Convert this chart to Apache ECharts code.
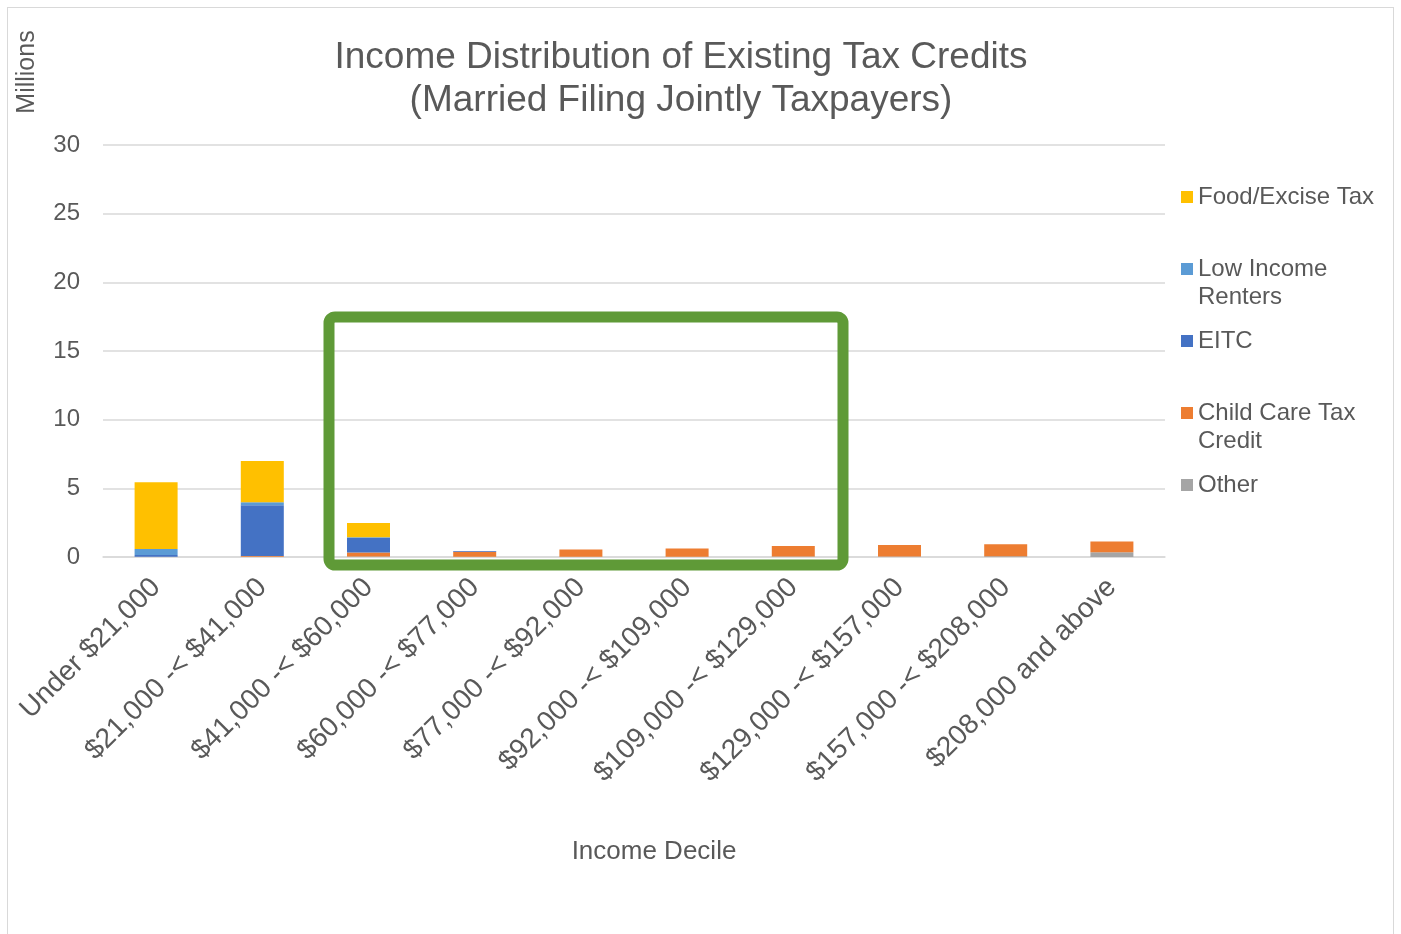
<!DOCTYPE html>
<html><head><meta charset="utf-8">
<script src="https://cdn.jsdelivr.net/npm/echarts@6/dist/echarts.min.js"></script>
<style>
html,body{margin:0;padding:0;background:#fff;}
#frame{position:absolute;left:7px;top:7px;width:1387px;height:940px;border:1.5px solid #d9d9d9;box-sizing:border-box;}
#chart{position:absolute;left:0;top:0;width:1401px;height:934px;}
</style></head>
<body>
<div id="frame"></div>
<div id="chart"></div>
<script>
const categories = ['Under $21,000', '$21,000 -< $41,000', '$41,000 -< $60,000', '$60,000 -< $77,000', '$77,000 -< $92,000', '$92,000 -< $109,000', '$109,000 -< $129,000', '$129,000 -< $157,000', '$157,000 -< $208,000', '$208,000 and above'];
const other     = [0.02, 0.02, 0.03, 0.02, 0.02, 0.02, 0.03, 0.03, 0.05, 0.35];
const childCare = [0.00, 0.05, 0.30, 0.37, 0.53, 0.60, 0.78, 0.85, 0.88, 0.77];
const eitc      = [0.12, 3.70, 1.05, 0.05, 0, 0, 0, 0, 0, 0];
const lowIncome = [0.45, 0.22, 0.05, 0, 0, 0, 0, 0, 0, 0];
const food      = [4.85, 3.00, 1.05, 0, 0, 0, 0, 0, 0, 0];
const yTicks = [0, 5, 10, 15, 20, 25, 30];

const FONT = '"Liberation Sans", Arial, sans-serif';
const GREY = '#595959';
const chart = echarts.init(document.getElementById('chart'));
const icon = 'path://M0,0L0.01,0L0,0.01Z M0,8L12,8L12,20L0,20Z M0,56L0.01,56L0,55.99Z';
const mk = (name, data, color) => ({
  name, type: 'bar', stack: 'total', data, barWidth: 43,
  itemStyle: { color }, emphasis: { disabled: true }
});
chart.setOption({
  animation: false,
  title: {
    text: 'Income Distribution of Existing Tax Credits\n(Married Filing Jointly Taxpayers)',
    left: 676, top: 31, textAlign: 'center',
    textStyle: { fontFamily: FONT, fontSize: 37, fontWeight: 'normal', color: GREY, lineHeight: 43 }
  },
  legend: {
    orient: 'vertical', left: 1181, top: 183, itemGap: 16, padding: 0,
    itemWidth: 12, itemHeight: 56, icon: icon,
    data: ['Food/Excise Tax', 'Low Income Renters', 'EITC', 'Child Care Tax Credit', 'Other'],
    formatter: function (n) {
      const map = { 'Low Income Renters': 'Low Income\nRenters', 'Child Care Tax Credit': 'Child Care Tax\nCredit' };
      return map[n] || (n + '\n ');
    },
    textStyle: { fontFamily: FONT, fontSize: 24, color: GREY, lineHeight: 28 },
    selectedMode: false
  },
  grid: { left: 103, right: 236, top: 145, bottom: 377 },
  xAxis: {
    type: 'category', data: categories,
    axisLine: { lineStyle: { color: '#d9d9d9', width: 1.5 } },
    axisTick: { show: false },
    axisLabel: { rotate: 45, interval: 0, fontFamily: FONT, fontSize: 28, color: GREY, margin: 26 },
    name: 'Income Decile', nameLocation: 'middle', nameGap: 282,
    nameTextStyle: { fontFamily: FONT, fontSize: 26, color: GREY, padding: [0, 0, 0, 40] }
  },
  yAxis: {
    type: 'value', min: yTicks[0], max: yTicks[yTicks.length - 1], interval: 5,
    axisLine: { show: false }, axisTick: { show: false },
    axisLabel: { fontFamily: FONT, fontSize: 24, color: GREY, margin: 23 },
    splitLine: { lineStyle: { color: '#d9d9d9', width: 1.5 } }
  },
  series: [
    mk('Other', other, '#A5A5A5'),
    mk('Child Care Tax Credit', childCare, '#ED7D31'),
    mk('EITC', eitc, '#4472C4'),
    mk('Low Income Renters', lowIncome, '#5B9BD5'),
    mk('Food/Excise Tax', food, '#FFC000')
  ],
  graphic: [{
    type: 'rect', shape: { x: 329, y: 317, width: 514, height: 248, r: 6 },
    style: { fill: 'none', stroke: '#5F9A37', lineWidth: 11 }, z: 100
  }, {
    type: 'text', x: 27, y: 72, rotation: Math.PI / 2,
    style: { text: 'Millions', fontFamily: FONT, fontSize: 25, fill: GREY, align: 'center', verticalAlign: 'middle' }
  }]
});
</script>
</body></html>
